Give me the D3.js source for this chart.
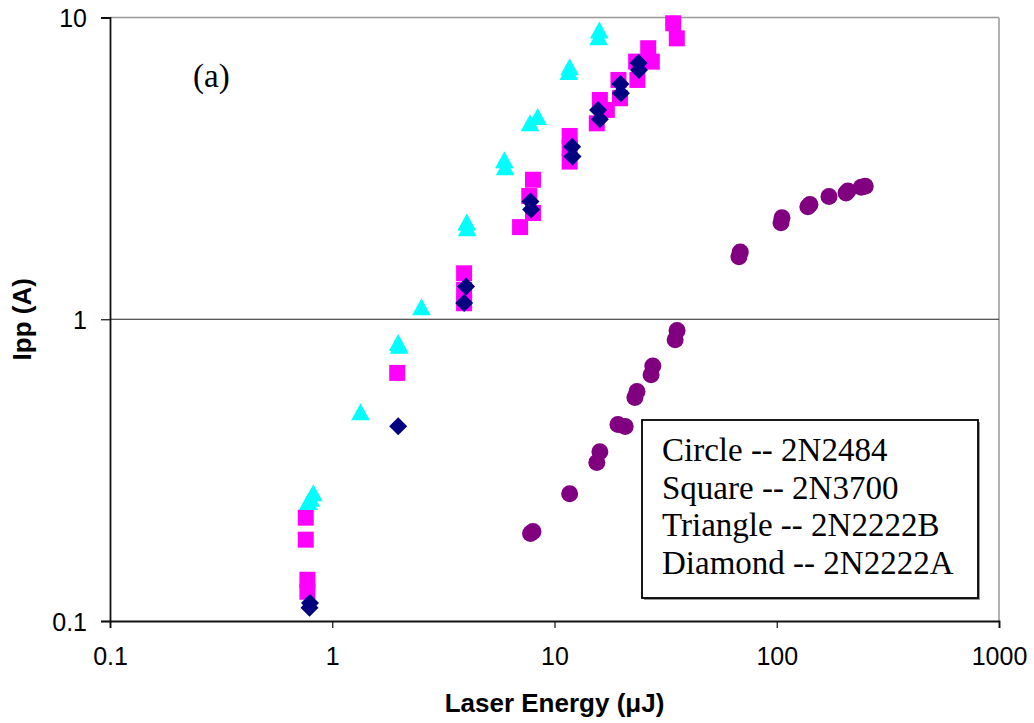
<!DOCTYPE html>
<html>
<head>
<meta charset="utf-8">
<script src="https://cdn.jsdelivr.net/npm/d3@7"></script>
<style>
  body { margin: 0; background: #fff; }
  svg { display: block; }
  .tick text { font-family: "Liberation Sans", Arial, sans-serif; font-size: 25px; fill: #000; }
  .title { font-family: "Liberation Sans", Arial, sans-serif; font-size: 26px; font-weight: bold; }
  .serif { font-family: "Liberation Serif", "Times New Roman", serif; font-size: 33px; }
</style>
</head>
<body>
<div id="chart"></div>
<script>
// Ipp vs laser energy, one series per transistor
const circleEnergy = [7.8, 8.0, 11.7, 15.5, 16.0, 19.3, 20.8, 23.0, 23.5, 27.2, 27.7, 34.9, 35.6, 67.6, 68.5, 104.5, 105.6, 138, 141, 171.8, 205, 209, 240, 250];
const circleIpp    = [0.195, 0.198, 0.264, 0.335, 0.364, 0.448, 0.441, 0.55, 0.576, 0.655, 0.70, 0.855, 0.917, 1.61, 1.67, 2.09, 2.17, 2.36, 2.40, 2.55, 2.62, 2.66, 2.74, 2.76];

const squareEnergy = [0.76, 0.76, 0.773, 0.773, 1.96, 3.92, 3.92, 3.92, 7.0, 8.0, 7.7, 8.0, 11.7, 11.7, 11.7, 15.5, 16.0, 17.2, 19.4, 19.7, 23.3, 23.6, 26.4, 27.4, 34.2, 35.5];
const squareIpp    = [0.220, 0.186, 0.137, 0.125, 0.664, 1.42, 1.25, 1.13, 2.02, 2.25, 2.56, 2.90, 4.05, 3.70, 3.33, 4.46, 5.33, 4.94, 6.21, 5.40, 7.14, 6.21, 7.91, 7.14, 9.57, 8.53];

const triangleEnergy = [0.78, 0.80, 0.822, 1.34, 1.98, 2.0, 2.52, 4.03, 4.05, 5.95, 6.0, 7.76, 8.4, 11.7, 11.6, 15.9, 15.8];
const triangleIpp    = [0.249, 0.255, 0.266, 0.494, 0.838, 0.82, 1.10, 2.10, 2.01, 3.38, 3.20, 4.48, 4.70, 6.87, 6.62, 9.09, 8.64];

const diamondEnergy = [0.794, 0.79, 1.98, 4.0, 3.92, 7.8, 7.85, 12.0, 12.05, 15.7, 16.0, 19.8, 19.9, 23.9, 24.0];
const diamondIpp    = [0.1148, 0.1106, 0.4416, 1.285, 1.132, 2.455, 2.31, 3.73, 3.46, 4.94, 4.60, 6.02, 5.61, 7.06, 6.70];

const xTicks = [0.1, 1, 10, 100, 1000];
const yTicks = [0.1, 1, 10];
const legendLines = ["Circle -- 2N2484", "Square -- 2N3700", "Triangle -- 2N2222B", "Diamond -- 2N2222A"];

const width = 1034, height = 723;
const margin = {top: 17.5, right: 35, bottom: 102, left: 110};

const svg = d3.select("#chart").append("svg")
  .attr("width", width)
  .attr("height", height);

const x = d3.scaleLog().domain([0.1, 1000]).range([margin.left, width - margin.right]);
const y = d3.scaleLog().domain([0.1, 10]).range([height - margin.bottom, margin.top]);

// plot frame: grey top/right, gridline at 1
svg.append("line")
  .attr("x1", x(0.1)).attr("x2", x(1000))
  .attr("y1", y(10)).attr("y2", y(10))
  .attr("stroke", "#999").attr("stroke-width", 1.5);
svg.append("line")
  .attr("x1", x(1000)).attr("x2", x(1000))
  .attr("y1", y(10)).attr("y2", y(0.1))
  .attr("stroke", "#999").attr("stroke-width", 1.5);
svg.append("line")
  .attr("x1", x(0.1)).attr("x2", x(1000))
  .attr("y1", y(1)).attr("y2", y(1))
  .attr("stroke", "#222").attr("stroke-width", 1.2);

// axes
const xAxis = svg.append("g")
  .attr("transform", `translate(0,${y(0.1)})`)
  .call(d3.axisBottom(x).tickValues(xTicks).tickFormat(d3.format("~g")).tickSize(7).tickPadding(19));
const yAxis = svg.append("g")
  .attr("transform", `translate(${x(0.1)},0)`)
  .call(d3.axisLeft(y).tickValues(yTicks).tickFormat(d3.format("~g")).tickSize(9).tickPadding(14));

[xAxis, yAxis].forEach(g => {
  g.select(".domain").attr("stroke", "#111").attr("stroke-width", 1.8);
  g.selectAll(".tick line").attr("stroke", "#111").attr("stroke-width", 1.2);
});
yAxis.selectAll(".tick text").attr("dy", "0.36em");

// axis titles
svg.append("text")
  .attr("class", "title")
  .attr("x", (x(0.1) + x(1000)) / 2)
  .attr("y", 712)
  .attr("text-anchor", "middle")
  .text("Laser Energy (\u03bcJ)");

svg.append("text")
  .attr("class", "title")
  .attr("transform", `translate(31,${y(1)}) rotate(-90)`)
  .attr("text-anchor", "middle")
  .text("Ipp (A)");

svg.append("text")
  .attr("class", "serif")
  .attr("x", 193)
  .attr("y", 87)
  .text("(a)");

// marker shapes
const triangleType = {
  draw(ctx, size) {
    const h = Math.sqrt(size);
    const w = h * 1.1;
    ctx.moveTo(0, -h / 2);
    ctx.lineTo(w / 2, h / 2);
    ctx.lineTo(-w / 2, h / 2);
    ctx.closePath();
  }
};
const diamondType = {
  draw(ctx, size) {
    const r = Math.sqrt(size) / 2;
    ctx.moveTo(0, -r);
    ctx.lineTo(r, 0);
    ctx.lineTo(0, r);
    ctx.lineTo(-r, 0);
    ctx.closePath();
  }
};

const series = [
  {energy: circleEnergy, ipp: circleIpp, type: d3.symbolCircle, size: Math.PI * 8.5 * 8.5, color: "#800080"},
  {energy: squareEnergy, ipp: squareIpp, type: d3.symbolSquare, size: 16 * 16, color: "#FF00FF"},
  {energy: triangleEnergy, ipp: triangleIpp, type: triangleType, size: 17 * 17, color: "#00FFFF"},
  {energy: diamondEnergy, ipp: diamondIpp, type: diamondType, size: 18 * 18, color: "#000080"}
];

series.forEach(s => {
  const pts = s.energy.map((e, i) => [e, s.ipp[i]]);
  svg.append("g")
    .selectAll("path")
    .data(pts)
    .join("path")
    .attr("transform", d => `translate(${x(d[0])},${y(d[1])})`)
    .attr("d", d3.symbol().type(s.type).size(s.size))
    .attr("fill", s.color);
});

// legend box
const legend = svg.append("g").attr("transform", "translate(642,420)");
legend.append("rect")
  .attr("x", 2).attr("y", 2)
  .attr("width", 336).attr("height", 178)
  .attr("fill", "#999");
legend.append("rect")
  .attr("width", 336).attr("height", 178)
  .attr("fill", "#fff")
  .attr("stroke", "#000").attr("stroke-width", 1.8);
legend.selectAll("text.serif")
  .data(legendLines)
  .join("text")
  .attr("class", "serif")
  .attr("x", 20)
  .attr("y", (d, i) => 41 + i * 37.5)
  .text(d => d);
</script>
</body>
</html>
